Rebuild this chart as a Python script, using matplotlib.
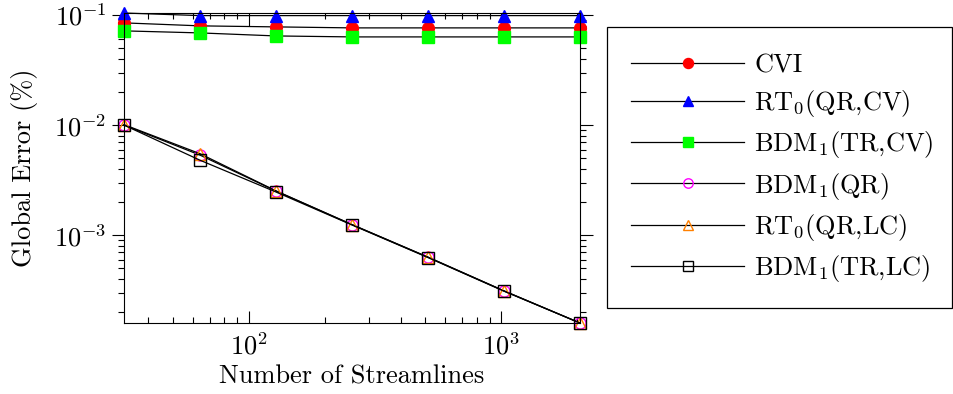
import matplotlib
matplotlib.use("Agg")
import matplotlib.pyplot as plt
from matplotlib.patches import Rectangle

plt.rcParams['font.family'] = 'cmr10'
plt.rcParams['mathtext.fontset'] = 'cm'
plt.rcParams['axes.formatter.use_mathtext'] = True
plt.rcParams['font.size'] = 19

# data
streamlines = [32, 64, 128, 256, 512, 1024, 2048]
cvi = [0.0846, 0.0795, 0.0778, 0.0762, 0.0762, 0.0762, 0.0762]
rt0_qr_cv = [0.104, 0.0985, 0.0985, 0.0985, 0.0985, 0.0985, 0.0985]
bdm1_tr_cv = [0.0716, 0.0686, 0.0644, 0.0631, 0.0631, 0.0631, 0.0631]
bdm1_qr = [0.0100, 0.00534, 0.00252, 0.00125, 0.000632, 0.000313, 0.000160]
rt0_qr_lc = [0.0101, 0.00550, 0.00253, 0.00125, 0.000634, 0.000313, 0.000160]
bdm1_tr_lc = [0.0100, 0.00480, 0.00247, 0.00124, 0.000628, 0.000311, 0.000160]

W, H = 954, 394
fig = plt.figure(figsize=(W/100, H/100), dpi=100)
ax = fig.add_axes([124/W, 1-323/H, (580-124)/W, (323-13)/H])

kw = dict(color='black', lw=0.9, clip_on=False)
ax.plot(streamlines, cvi, marker='o', ms=8.5, mfc='red', mec='red', label='CVI', **kw)
ax.plot(streamlines, rt0_qr_cv, marker='^', ms=8.5, mfc='blue', mec='blue',
        label=r'RT$_0$(QR,CV)', **kw)
ax.plot(streamlines, bdm1_tr_cv, marker='s', ms=8.5, mfc='#00ff00', mec='#00ff00',
        label=r'BDM$_1$(TR,CV)', **kw)
ax.plot(streamlines, bdm1_qr, marker='o', ms=8, mfc='none', mec='magenta',
        label=r'BDM$_1$(QR)', **kw)
ax.plot(streamlines, rt0_qr_lc, marker='^', ms=8, mfc='none', mec='#ff8000',
        label=r'RT$_0$(QR,LC)', **kw)
ax.plot(streamlines, bdm1_tr_lc, marker='s', ms=8.5, mfc='none', mec='black',
        label=r'BDM$_1$(TR,LC)', **kw)

ax.set_xscale('log')
ax.set_yscale('log')
ax.set_xlim(32, 2048)
ax.set_ylim(1.6e-4, 0.104)
ax.set_xlabel('Number of Streamlines', labelpad=4)
ax.set_ylabel('Global Error (%)', labelpad=12)

ax.tick_params(axis='x', which='both', direction='in', top=True, bottom=True, pad=7)
ax.tick_params(axis='y', which='both', direction='out', left=True, right=True)
ax.tick_params(which='major', length=9, width=0.8)
ax.tick_params(which='minor', length=4.5, width=0.8)
for s in ax.spines.values():
    s.set_linewidth(0.8)

# legend entries without frame, frame drawn as a separate box
leg = fig.legend(loc='upper left', bbox_to_anchor=(631/W, 1-54/H),
                 handlelength=4.3, handletextpad=0.38, labelspacing=0.39,
                 borderpad=0, borderaxespad=0, frameon=False, markerscale=0.85)
fig.patches.append(Rectangle((607/W, 1-308/H), 345/W, 281/H, transform=fig.transFigure,
                             fill=False, ec='black', lw=0.9))

fig.savefig('out.png', dpi=100)
